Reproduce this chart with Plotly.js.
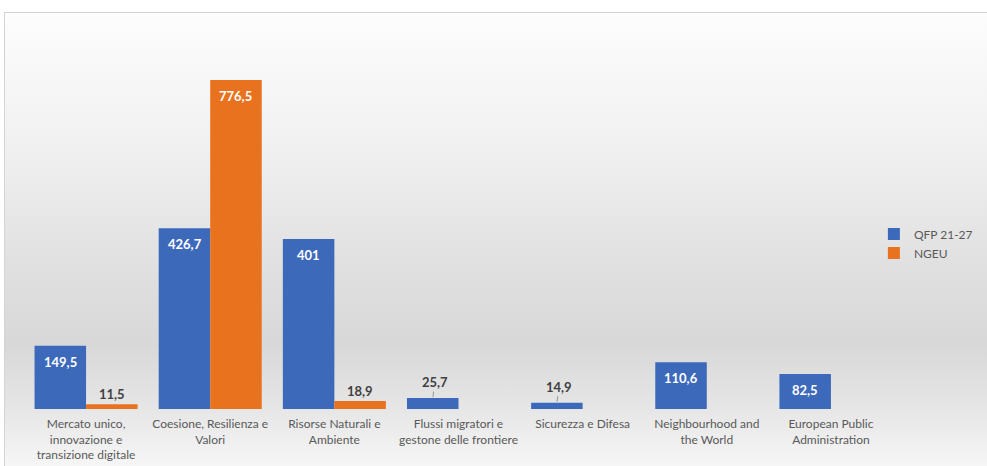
<!DOCTYPE html>
<html>
<head>
<meta charset="utf-8">
<script src="https://cdn.plot.ly/plotly-3.0.1.min.js"></script>
<style>
  html, body { margin: 0; padding: 0; background: #ffffff; width: 987px; height: 466px; overflow: hidden; position: relative; }
  #frame {
    position: absolute; left: 4px; top: 12px; width: 990px; height: 460px;
    border: 1px solid #d4d4d4;
    background: linear-gradient(to bottom, #fdfdfd 0%, #f0f0f0 30%, #e0e0e0 55%, #d8d8d8 72%, #e6e6e6 86%, #f8f8f8 100%);
  }
  #chart { position: absolute; left: 0; top: 0; width: 1010px; height: 466px; }
</style>
</head>
<body>
<div id="frame"></div>
<div id="chart"></div>
<script>
const categories = [
  "Mercato unico,<br>innovazione e<br>transizione digitale",
  "Coesione, Resilienza e<br>Valori",
  "Risorse Naturali e<br>Ambiente",
  "Flussi migratori e<br>gestone delle frontiere",
  "Sicurezza e Difesa",
  "Neighbourhood and<br>the World",
  "European Public<br>Administration"
];
const qfpValues  = [149.5, 426.7, 401, 25.7, 14.9, 110.6, 82.5];
const ngeuValues = [11.5, 776.5, 18.9, null, null, null, null];
const seriesNames = ["QFP 21-27", "NGEU"];

const fmt = v => String(v).replace(".", ",");
const FONT = "Lato, 'Open Sans', 'Liberation Sans', sans-serif";
const SMALL = 60;          // values below this get their label above the bar
const leaderIdx = [3, 4];  // QFP labels drawn with a leader line
const HALF = 25.7;         // half a bar width, px (bar offset within a group)

const traces = [
  { type: "bar", name: seriesNames[0], x: categories, y: qfpValues,
    marker: {color: "#3D69BB"}, hoverinfo: "skip" },
  { type: "bar", name: seriesNames[1], x: categories, y: ngeuValues,
    marker: {color: "#E9721F"}, hoverinfo: "skip" }
];

function labelAnn(cat, v, shift, isLeader) {
  const inside = v >= SMALL;
  const a = {
    x: cat, y: v, xref: "x", yref: "y", xshift: shift,
    text: "<b>" + fmt(v) + "</b>",
    font: {family: FONT, size: 13, color: inside ? "#ffffff" : "#404040"}
  };
  if (isLeader) {
    Object.assign(a, {showarrow: true, arrowhead: 0, arrowwidth: 0.8,
      arrowcolor: "#808080", ax: 2, ay: -16, standoff: 1});
  } else {
    Object.assign(a, {showarrow: false, yanchor: "middle", yshift: inside ? -16 : 10});
  }
  return a;
}

const annotations = [];
qfpValues.forEach((v, i) => { if (v !== null) annotations.push(labelAnn(categories[i], v, -HALF, leaderIdx.includes(i))); });
ngeuValues.forEach((v, i) => { if (v !== null) annotations.push(labelAnn(categories[i], v, HALF, false)); });

const layout = {
  width: 1010, height: 466,
  margin: {l: 24, r: 117, t: 30, b: 57},
  paper_bgcolor: "rgba(0,0,0,0)", plot_bgcolor: "rgba(0,0,0,0)",
  barmode: "group", bargap: 0.17, bargroupgap: 0,
  showlegend: true,
  legend: {x: 0.978, xanchor: "left", y: 0.5, yanchor: "top",
           font: {family: FONT, size: 12, color: "#595959"},
           bgcolor: "rgba(0,0,0,0)", itemwidth: 30, tracegroupgap: 4},
  xaxis: {showgrid: false, zeroline: false, showline: false, ticks: "",
          tickfont: {family: FONT, size: 12, color: "#595959"}, tickangle: 0,
          ticklabelstandoff: 6, fixedrange: true},
  yaxis: {range: [0, 894.6], visible: false, showgrid: false, zeroline: false, fixedrange: true},
  annotations: annotations,
  font: {family: FONT}
};

Plotly.newPlot("chart", traces, layout, {displayModeBar: false, staticPlot: true});
</script>
</body>
</html>
